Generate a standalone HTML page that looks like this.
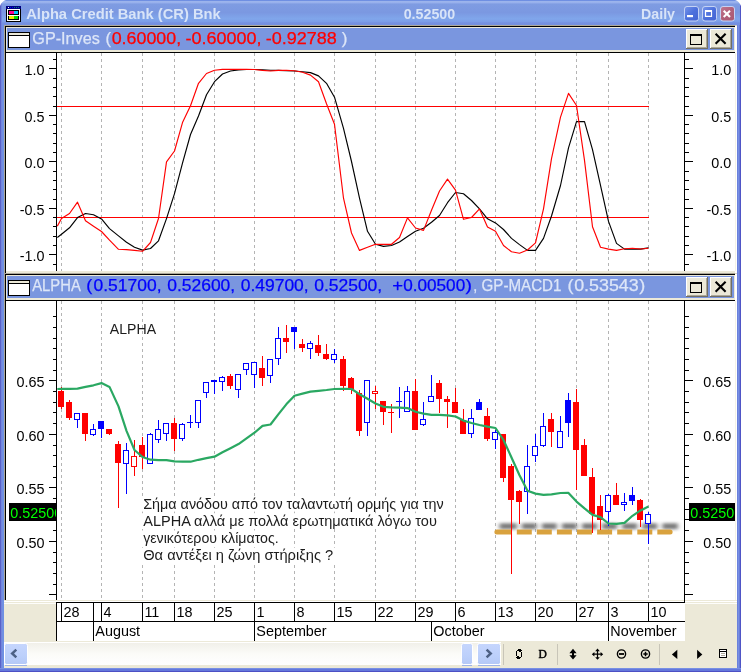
<!DOCTYPE html>
<html><head><meta charset="utf-8"><title>Alpha Credit Bank (CR) Bnk</title>
<style>
html,body{margin:0;padding:0;background:#fff;overflow:hidden}
svg{display:block;will-change:transform;transform:translateZ(0)}
text{font-family:"Liberation Sans", sans-serif;}
.ax{font-size:15.4px;fill:#000}
.ttl{font-size:16.2px}
</style></head><body>
<svg width="741" height="672" viewBox="0 0 741 672">
<defs>
<linearGradient id="tb" x1="0" y1="0" x2="0" y2="1">
<stop offset="0" stop-color="#5f80dc"/><stop offset="0.04" stop-color="#7f9ee8"/>
<stop offset="0.06" stop-color="#9cb4ec"/><stop offset="0.11" stop-color="#98b0ec"/>
<stop offset="0.16" stop-color="#7f9ce2"/><stop offset="0.5" stop-color="#7b98e1"/>
<stop offset="0.75" stop-color="#80a6eb"/><stop offset="0.86" stop-color="#7c9ee8"/>
<stop offset="0.92" stop-color="#7590e0"/><stop offset="1" stop-color="#7590e0"/>
</linearGradient>
<linearGradient id="bb" x1="0" y1="0" x2="1" y2="1">
<stop offset="0" stop-color="#7896ea"/><stop offset="0.5" stop-color="#4c70dc"/><stop offset="1" stop-color="#4464d2"/>
</linearGradient>
<linearGradient id="rb" x1="0" y1="0" x2="1" y2="1">
<stop offset="0" stop-color="#c07890"/><stop offset="0.5" stop-color="#b2607a"/><stop offset="1" stop-color="#a85872"/>
</linearGradient>
<linearGradient id="sb" x1="0" y1="0" x2="0" y2="1">
<stop offset="0" stop-color="#f0efe8"/><stop offset="0.5" stop-color="#fbfbf8"/><stop offset="1" stop-color="#ffffff"/>
</linearGradient>
<linearGradient id="th" x1="0" y1="0" x2="0" y2="1">
<stop offset="0" stop-color="#c6d6fd"/><stop offset="0.6" stop-color="#bcd0fb"/><stop offset="1" stop-color="#b4c8f6"/>
</linearGradient>
<filter id="blur" filterUnits="userSpaceOnUse" x="480" y="505" width="220" height="45"><feGaussianBlur stdDeviation="2.0 1.5"/></filter>
<clipPath id="c1"><rect x="57" y="53" width="628" height="218"/></clipPath>
<clipPath id="c2"><rect x="57" y="301" width="628" height="299"/></clipPath>
</defs>

<g shape-rendering="crispEdges">
<rect x="0" y="0" width="741" height="672" fill="#7088e0"/>
<rect x="0" y="0" width="741" height="25" fill="url(#tb)"/>
<rect x="0" y="3" width="1" height="669" fill="#5862c8"/>
<rect x="1" y="3" width="1" height="669" fill="#7484dc"/>
<rect x="2" y="25" width="2" height="647" fill="#7090e2"/>
<rect x="737" y="25" width="1" height="647" fill="#6a80dc"/>
<rect x="738" y="25" width="1" height="647" fill="#7890e2"/>
<rect x="739" y="25" width="1" height="647" fill="#687cda"/>
<rect x="740" y="3" width="1" height="669" fill="#4f55c6"/>
<rect x="0" y="668" width="741" height="1" fill="#7890e4"/>
<rect x="0" y="669" width="741" height="2" fill="#6478dc"/>
<rect x="0" y="671" width="741" height="1" fill="#4c50c4"/>
</g>
<path d="M0 0H6Q2 1 0 6Z" fill="#fff"/>
<path d="M741 0H735Q739 1 741 6Z" fill="#fff"/>
<g shape-rendering="crispEdges">
<rect x="6" y="6" width="15" height="16" fill="#000"/>
<rect x="6" y="6" width="15" height="3" fill="#000080"/>
<rect x="8" y="7" width="1" height="1" fill="#fff"/>
<rect x="10" y="7" width="1" height="1" fill="#0000ff"/>
<rect x="12" y="7" width="1" height="1" fill="#0000ff"/>
<rect x="14" y="7" width="1" height="1" fill="#008080"/>
<rect x="16" y="7" width="1" height="1" fill="#008080"/>
<rect x="18" y="7" width="1" height="1" fill="#008080"/>
<rect x="7" y="9" width="13" height="12" fill="#fff"/>
<rect x="8" y="10" width="11" height="5" fill="#000"/>
<rect x="8" y="16" width="11" height="4" fill="#000"/>
<rect x="9" y="11" width="5" height="3" fill="#ff0090"/>
<rect x="14" y="11" width="4" height="3" fill="#00c8ff"/>
<rect x="9" y="16" width="5" height="3" fill="#f0f000"/>
<rect x="14" y="16" width="4" height="3" fill="#00e000"/>
</g>
<text x="26.2" y="19.2" font-size="14px" font-weight="bold" fill="#d8e4f8" textLength="194.5" lengthAdjust="spacingAndGlyphs">Alpha Credit Bank (CR) Bnk</text>
<text x="403.7" y="19.2" font-size="14px" font-weight="bold" fill="#d8e4f8" textLength="51.5" lengthAdjust="spacingAndGlyphs">0.52500</text>
<text x="641" y="19.2" font-size="14px" font-weight="bold" fill="#d8e4f8" textLength="34" lengthAdjust="spacingAndGlyphs">Daily</text>
<rect x="684.5" y="6.5" width="14" height="14.5" rx="2.5" fill="url(#bb)" stroke="#c4d2f4" stroke-width="1"/>
<rect x="702.5" y="6.5" width="14" height="14.5" rx="2.5" fill="url(#bb)" stroke="#c4d2f4" stroke-width="1"/>
<rect x="720.5" y="6.5" width="14" height="14.5" rx="2.5" fill="url(#rb)" stroke="#c4d2f4" stroke-width="1"/>
<rect x="687" y="15" width="6" height="2.2" fill="#fff"/>
<path d="M705.5 11.2H711.5V16.3H705.5Z" fill="none" stroke="#fff" stroke-width="1.2"/><rect x="705" y="10" width="7" height="2" fill="#fff"/>
<path d="M723.7 10.7L730 17M730 10.7L723.7 17" stroke="#fff" stroke-width="2.1" fill="none"/>
<g shape-rendering="crispEdges">
<rect x="4" y="25" width="733" height="248" fill="#aca899"/>
<rect x="5" y="26" width="732" height="247" fill="#000"/>
<rect x="6" y="27" width="731" height="246" fill="#ece9d8"/>
<rect x="735" y="26" width="2" height="247" fill="#fff"/>
<rect x="735" y="25" width="2" height="1" fill="#d8d4c4"/>
<rect x="7" y="28" width="727" height="22" fill="#7a96df"/>
<rect x="5" y="52" width="730" height="1" fill="#000"/>
<rect x="6" y="53" width="729" height="218" fill="#fff"/>
<rect x="735" y="53" width="1" height="218" fill="#f4f2e6"/>
<rect x="8" y="32" width="22" height="16" fill="#000"/>
<rect x="9" y="33" width="20" height="2" fill="#ece9d8"/>
<rect x="9" y="36" width="20" height="11" fill="#fff"/>
<rect x="686" y="29" width="22" height="20" fill="#716f64"/>
<rect x="686" y="29" width="21" height="19" fill="#fff"/>
<rect x="687" y="30" width="20" height="18" fill="#aca899"/>
<rect x="687" y="30" width="19" height="17" fill="#ece9d8"/>
<rect x="710" y="29" width="22" height="20" fill="#716f64"/>
<rect x="710" y="29" width="21" height="19" fill="#fff"/>
<rect x="711" y="30" width="20" height="18" fill="#aca899"/>
<rect x="711" y="30" width="19" height="17" fill="#ece9d8"/>
<rect x="690" y="34" width="12" height="11" fill="#000"/>
<rect x="691" y="36" width="10" height="8" fill="#ece9d8"/>
</g>
<path d="M715.6 33.8L725.6 43.8M725.6 33.8L715.6 43.8" stroke="#000" stroke-width="2.1" fill="none"/>
<g shape-rendering="crispEdges">
<rect x="4" y="273" width="733" height="327" fill="#aca899"/>
<rect x="5" y="274" width="732" height="326" fill="#000"/>
<rect x="6" y="275" width="731" height="325" fill="#ece9d8"/>
<rect x="735" y="274" width="2" height="326" fill="#fff"/>
<rect x="735" y="273" width="2" height="1" fill="#d8d4c4"/>
<rect x="7" y="276" width="727" height="22" fill="#7a96df"/>
<rect x="5" y="300" width="730" height="1" fill="#000"/>
<rect x="6" y="301" width="729" height="299" fill="#fff"/>
<rect x="735" y="301" width="1" height="299" fill="#f4f2e6"/>
<rect x="8" y="280" width="22" height="16" fill="#000"/>
<rect x="9" y="281" width="20" height="2" fill="#ece9d8"/>
<rect x="9" y="284" width="20" height="11" fill="#fff"/>
<rect x="686" y="277" width="22" height="20" fill="#716f64"/>
<rect x="686" y="277" width="21" height="19" fill="#fff"/>
<rect x="687" y="278" width="20" height="18" fill="#aca899"/>
<rect x="687" y="278" width="19" height="17" fill="#ece9d8"/>
<rect x="710" y="277" width="22" height="20" fill="#716f64"/>
<rect x="710" y="277" width="21" height="19" fill="#fff"/>
<rect x="711" y="278" width="20" height="18" fill="#aca899"/>
<rect x="711" y="278" width="19" height="17" fill="#ece9d8"/>
<rect x="690" y="282" width="12" height="11" fill="#000"/>
<rect x="691" y="284" width="10" height="8" fill="#ece9d8"/>
</g>
<path d="M715.6 281.8L725.6 291.8M725.6 281.8L715.6 291.8" stroke="#000" stroke-width="2.1" fill="none"/>
<text class="ttl" x="32.3" y="43.5" fill="#dde6f8" stroke="#dde6f8" stroke-width="0.25" textLength="67.5" lengthAdjust="spacingAndGlyphs">GP-Inves</text>
<text class="ttl" x="105.6" y="43.5" fill="#dde6f8" stroke="#dde6f8" stroke-width="0.25" textLength="5.5" lengthAdjust="spacingAndGlyphs">(</text>
<text class="ttl" x="111.7" y="43.5" fill="#ff0000" stroke="#ff0000" stroke-width="0.25" textLength="69.5" lengthAdjust="spacingAndGlyphs">0.60000,</text>
<text class="ttl" x="185.4" y="43.5" fill="#ff0000" stroke="#ff0000" stroke-width="0.25" textLength="76" lengthAdjust="spacingAndGlyphs">-0.60000,</text>
<text class="ttl" x="265.7" y="43.5" fill="#ff0000" stroke="#ff0000" stroke-width="0.25" textLength="71" lengthAdjust="spacingAndGlyphs">-0.92788</text>
<text class="ttl" x="341.8" y="43.5" fill="#dde6f8" stroke="#dde6f8" stroke-width="0.25" textLength="5.7" lengthAdjust="spacingAndGlyphs">)</text>
<text class="ttl" x="32.2" y="291.4" fill="#dde6f8" stroke="#dde6f8" stroke-width="0.25" textLength="48.6" lengthAdjust="spacingAndGlyphs">ALPHA</text>
<text class="ttl" x="86.2" y="291.4" fill="#0000ff" stroke="#0000ff" stroke-width="0.25" textLength="6" lengthAdjust="spacingAndGlyphs">(</text>
<text class="ttl" x="93.5" y="291.4" fill="#0000ff" stroke="#0000ff" stroke-width="0.25" textLength="68" lengthAdjust="spacingAndGlyphs">0.51700,</text>
<text class="ttl" x="167.2" y="291.4" fill="#0000ff" stroke="#0000ff" stroke-width="0.25" textLength="68" lengthAdjust="spacingAndGlyphs">0.52600,</text>
<text class="ttl" x="240.7" y="291.4" fill="#0000ff" stroke="#0000ff" stroke-width="0.25" textLength="68" lengthAdjust="spacingAndGlyphs">0.49700,</text>
<text class="ttl" x="314.2" y="291.4" fill="#0000ff" stroke="#0000ff" stroke-width="0.25" textLength="68" lengthAdjust="spacingAndGlyphs">0.52500,</text>
<text class="ttl" x="392.3" y="291.4" fill="#0000ff" stroke="#0000ff" stroke-width="0.25" textLength="10.8" lengthAdjust="spacingAndGlyphs">+</text>
<text class="ttl" x="403.2" y="291.4" fill="#0000ff" stroke="#0000ff" stroke-width="0.25" textLength="62" lengthAdjust="spacingAndGlyphs">0.00500</text>
<text class="ttl" x="465.5" y="291.4" fill="#0000ff" stroke="#0000ff" stroke-width="0.25" textLength="6.5" lengthAdjust="spacingAndGlyphs">)</text>
<text class="ttl" x="473.3" y="291.4" fill="#dde6f8" stroke="#dde6f8" stroke-width="0.25" textLength="4" lengthAdjust="spacingAndGlyphs">,</text>
<text class="ttl" x="481.5" y="291.4" fill="#dde6f8" stroke="#dde6f8" stroke-width="0.25" textLength="80" lengthAdjust="spacingAndGlyphs">GP-MACD1</text>
<text class="ttl" x="567.5" y="291.4" fill="#dde6f8" stroke="#dde6f8" stroke-width="0.25" textLength="6" lengthAdjust="spacingAndGlyphs">(</text>
<text class="ttl" x="574.2" y="291.4" fill="#dde6f8" stroke="#dde6f8" stroke-width="0.25" textLength="64.5" lengthAdjust="spacingAndGlyphs">0.53543</text>
<text class="ttl" x="639.2" y="291.4" fill="#dde6f8" stroke="#dde6f8" stroke-width="0.25" textLength="6" lengthAdjust="spacingAndGlyphs">)</text>
<g stroke="#b4b4b4" stroke-width="1" stroke-dasharray="3 3" shape-rendering="crispEdges">
<line x1="61.5" y1="53" x2="61.5" y2="271"/>
<line x1="101.5" y1="53" x2="101.5" y2="271"/>
<line x1="142.5" y1="53" x2="142.5" y2="271"/>
<line x1="174.5" y1="53" x2="174.5" y2="271"/>
<line x1="214.5" y1="53" x2="214.5" y2="271"/>
<line x1="254.5" y1="53" x2="254.5" y2="271"/>
<line x1="294.5" y1="53" x2="294.5" y2="271"/>
<line x1="334.5" y1="53" x2="334.5" y2="271"/>
<line x1="375.5" y1="53" x2="375.5" y2="271"/>
<line x1="415.5" y1="53" x2="415.5" y2="271"/>
<line x1="455.5" y1="53" x2="455.5" y2="271"/>
<line x1="495.5" y1="53" x2="495.5" y2="271"/>
<line x1="535.5" y1="53" x2="535.5" y2="271"/>
<line x1="576.5" y1="53" x2="576.5" y2="271"/>
<line x1="608.5" y1="53" x2="608.5" y2="271"/>
<line x1="648.5" y1="53" x2="648.5" y2="271"/>
</g>
<g fill="#000" shape-rendering="crispEdges">
<rect x="56" y="53" width="1" height="218"/>
<rect x="684" y="53" width="1" height="218"/>
<rect x="53" y="264" width="3" height="1"/><rect x="685" y="264" width="4" height="1"/>
<rect x="49" y="254" width="7" height="1"/><rect x="685" y="254" width="8" height="1"/>
<rect x="53" y="245" width="3" height="1"/><rect x="685" y="245" width="4" height="1"/>
<rect x="53" y="236" width="3" height="1"/><rect x="685" y="236" width="4" height="1"/>
<rect x="53" y="226" width="3" height="1"/><rect x="685" y="226" width="4" height="1"/>
<rect x="53" y="217" width="3" height="1"/><rect x="685" y="217" width="4" height="1"/>
<rect x="49" y="208" width="7" height="1"/><rect x="685" y="208" width="8" height="1"/>
<rect x="53" y="199" width="3" height="1"/><rect x="685" y="199" width="4" height="1"/>
<rect x="53" y="189" width="3" height="1"/><rect x="685" y="189" width="4" height="1"/>
<rect x="53" y="180" width="3" height="1"/><rect x="685" y="180" width="4" height="1"/>
<rect x="53" y="171" width="3" height="1"/><rect x="685" y="171" width="4" height="1"/>
<rect x="49" y="161" width="7" height="1"/><rect x="685" y="161" width="8" height="1"/>
<rect x="53" y="152" width="3" height="1"/><rect x="685" y="152" width="4" height="1"/>
<rect x="53" y="143" width="3" height="1"/><rect x="685" y="143" width="4" height="1"/>
<rect x="53" y="133" width="3" height="1"/><rect x="685" y="133" width="4" height="1"/>
<rect x="53" y="124" width="3" height="1"/><rect x="685" y="124" width="4" height="1"/>
<rect x="49" y="115" width="7" height="1"/><rect x="685" y="115" width="8" height="1"/>
<rect x="53" y="106" width="3" height="1"/><rect x="685" y="106" width="4" height="1"/>
<rect x="53" y="96" width="3" height="1"/><rect x="685" y="96" width="4" height="1"/>
<rect x="53" y="87" width="3" height="1"/><rect x="685" y="87" width="4" height="1"/>
<rect x="53" y="78" width="3" height="1"/><rect x="685" y="78" width="4" height="1"/>
<rect x="49" y="68" width="7" height="1"/><rect x="685" y="68" width="8" height="1"/>
<rect x="53" y="59" width="3" height="1"/><rect x="685" y="59" width="4" height="1"/>
</g>
<text class="ax" transform="translate(44.6 261) scale(0.935 1)" text-anchor="end" style="fill:#000">-1.0</text>
<text class="ax" transform="translate(731.2 261) scale(0.935 1)" text-anchor="end" style="fill:#000">-1.0</text>
<text class="ax" transform="translate(44.6 215) scale(0.935 1)" text-anchor="end" style="fill:#000">-0.5</text>
<text class="ax" transform="translate(731.2 215) scale(0.935 1)" text-anchor="end" style="fill:#000">-0.5</text>
<text class="ax" transform="translate(44.6 168) scale(0.935 1)" text-anchor="end" style="fill:#000">0.0</text>
<text class="ax" transform="translate(731.2 168) scale(0.935 1)" text-anchor="end" style="fill:#000">0.0</text>
<text class="ax" transform="translate(44.6 122) scale(0.935 1)" text-anchor="end" style="fill:#000">0.5</text>
<text class="ax" transform="translate(731.2 122) scale(0.935 1)" text-anchor="end" style="fill:#000">0.5</text>
<text class="ax" transform="translate(44.6 75) scale(0.935 1)" text-anchor="end" style="fill:#000">1.0</text>
<text class="ax" transform="translate(731.2 75) scale(0.935 1)" text-anchor="end" style="fill:#000">1.0</text>
<g shape-rendering="crispEdges" fill="#ff0000">
<rect x="57" y="106" width="592" height="1"/><rect x="57" y="217" width="592" height="1"/>
</g>
<polyline points="57.3,237.5 61.5,234.3 69.5,227.8 77.5,217.6 85.5,213.5 93.5,214.8 101.5,218.9 109.5,228.6 118.5,235.9 126.5,242.3 134.5,247.2 142.5,250.1 150.5,248.5 158.5,240.8 166.5,218.6 174.5,193.6 182.5,163.2 190.5,134.5 198.5,116.0 206.5,94.7 214.5,81.7 222.5,74.0 230.5,71.0 238.5,69.9 246.5,69.5 254.5,69.5 262.5,69.8 270.5,70.2 278.5,70.4 286.5,70.7 294.5,71.0 302.5,71.7 310.5,72.6 318.5,75.9 326.5,83.3 334.5,97.2 343.5,128.3 351.5,161.5 359.5,198.2 367.5,231.3 375.5,244.3 383.5,246.4 391.5,245.5 399.5,242.0 407.5,236.6 415.5,231.3 423.5,228.2 431.5,222.3 439.5,215.5 447.5,202.7 455.5,192.5 463.5,193.8 471.5,200.5 479.5,208.9 487.5,218.8 495.5,222.9 503.5,229.5 511.5,238.4 519.5,244.6 527.5,250.4 535.5,250.4 543.5,238.4 551.5,216.0 560.5,185.5 568.5,147.8 576.5,121.6 584.5,121.6 592.5,149.6 600.5,185.4 608.5,221.4 616.5,243.4 624.5,249.1 632.5,249.1 640.5,249.1 648.5,247.9" fill="none" stroke="#000000" stroke-width="1.15" stroke-linejoin="round" clip-path="url(#c1)"/>
<polyline points="57.3,226.2 61.5,218.5 69.5,213.5 77.5,202.2 85.5,220.8 93.5,226.2 101.5,231.5 109.5,240.2 118.5,249.3 126.5,249.6 134.5,250.4 142.5,251.3 150.5,242.5 158.5,218.5 166.5,161.8 174.5,151.0 182.5,122.6 190.5,105.7 198.5,83.3 206.5,73.5 214.5,70.2 222.5,69.4 230.5,69.4 238.5,69.4 246.5,69.4 254.5,69.5 262.5,70.4 270.5,71.0 278.5,70.4 286.5,70.4 294.5,70.7 302.5,72.3 310.5,75.1 318.5,81.7 326.5,103.8 334.5,124.2 343.5,198.2 351.5,233.0 359.5,250.4 367.5,247.3 375.5,244.3 383.5,244.3 391.5,244.3 399.5,237.5 407.5,217.9 415.5,228.0 423.5,230.4 431.5,210.2 439.5,191.0 447.5,179.1 455.5,190.2 463.5,219.3 471.5,217.5 479.5,208.9 487.5,227.1 495.5,231.3 503.5,245.5 511.5,251.8 519.5,253.2 527.5,250.0 535.5,242.9 543.5,208.8 551.5,158.6 560.5,117.1 568.5,93.4 576.5,105.5 584.5,160.4 592.5,226.8 600.5,247.3 608.5,249.1 616.5,250.4 624.5,248.8 632.5,248.2 640.5,249.0 648.5,248.2" fill="none" stroke="#ff0000" stroke-width="1.15" stroke-linejoin="round" clip-path="url(#c1)"/>
<g stroke="#b4b4b4" stroke-width="1" stroke-dasharray="3 3" shape-rendering="crispEdges">
<line x1="61.5" y1="301" x2="61.5" y2="600"/>
<line x1="101.5" y1="301" x2="101.5" y2="600"/>
<line x1="142.5" y1="301" x2="142.5" y2="600"/>
<line x1="174.5" y1="301" x2="174.5" y2="600"/>
<line x1="214.5" y1="301" x2="214.5" y2="600"/>
<line x1="254.5" y1="301" x2="254.5" y2="600"/>
<line x1="294.5" y1="301" x2="294.5" y2="600"/>
<line x1="334.5" y1="301" x2="334.5" y2="600"/>
<line x1="375.5" y1="301" x2="375.5" y2="600"/>
<line x1="415.5" y1="301" x2="415.5" y2="600"/>
<line x1="455.5" y1="301" x2="455.5" y2="600"/>
<line x1="495.5" y1="301" x2="495.5" y2="600"/>
<line x1="535.5" y1="301" x2="535.5" y2="600"/>
<line x1="576.5" y1="301" x2="576.5" y2="600"/>
<line x1="608.5" y1="301" x2="608.5" y2="600"/>
<line x1="648.5" y1="301" x2="648.5" y2="600"/>
</g>
<g fill="#000" shape-rendering="crispEdges">
<rect x="56" y="301" width="1" height="299"/>
<rect x="684" y="301" width="1" height="299"/>
<rect x="49" y="594" width="7" height="1"/><rect x="685" y="594" width="8" height="1"/>
<rect x="53" y="584" width="3" height="1"/><rect x="685" y="584" width="4" height="1"/>
<rect x="53" y="573" width="3" height="1"/><rect x="685" y="573" width="4" height="1"/>
<rect x="53" y="562" width="3" height="1"/><rect x="685" y="562" width="4" height="1"/>
<rect x="53" y="552" width="3" height="1"/><rect x="685" y="552" width="4" height="1"/>
<rect x="49" y="541" width="7" height="1"/><rect x="685" y="541" width="8" height="1"/>
<rect x="53" y="530" width="3" height="1"/><rect x="685" y="530" width="4" height="1"/>
<rect x="53" y="519" width="3" height="1"/><rect x="685" y="519" width="4" height="1"/>
<rect x="53" y="509" width="3" height="1"/><rect x="685" y="509" width="4" height="1"/>
<rect x="53" y="498" width="3" height="1"/><rect x="685" y="498" width="4" height="1"/>
<rect x="49" y="487" width="7" height="1"/><rect x="685" y="487" width="8" height="1"/>
<rect x="53" y="477" width="3" height="1"/><rect x="685" y="477" width="4" height="1"/>
<rect x="53" y="466" width="3" height="1"/><rect x="685" y="466" width="4" height="1"/>
<rect x="53" y="455" width="3" height="1"/><rect x="685" y="455" width="4" height="1"/>
<rect x="53" y="445" width="3" height="1"/><rect x="685" y="445" width="4" height="1"/>
<rect x="49" y="434" width="7" height="1"/><rect x="685" y="434" width="8" height="1"/>
<rect x="53" y="423" width="3" height="1"/><rect x="685" y="423" width="4" height="1"/>
<rect x="53" y="412" width="3" height="1"/><rect x="685" y="412" width="4" height="1"/>
<rect x="53" y="402" width="3" height="1"/><rect x="685" y="402" width="4" height="1"/>
<rect x="53" y="391" width="3" height="1"/><rect x="685" y="391" width="4" height="1"/>
<rect x="49" y="380" width="7" height="1"/><rect x="685" y="380" width="8" height="1"/>
<rect x="53" y="370" width="3" height="1"/><rect x="685" y="370" width="4" height="1"/>
<rect x="53" y="359" width="3" height="1"/><rect x="685" y="359" width="4" height="1"/>
<rect x="53" y="348" width="3" height="1"/><rect x="685" y="348" width="4" height="1"/>
<rect x="53" y="338" width="3" height="1"/><rect x="685" y="338" width="4" height="1"/>
<rect x="53" y="327" width="3" height="1"/><rect x="685" y="327" width="4" height="1"/>
<rect x="53" y="316" width="3" height="1"/><rect x="685" y="316" width="4" height="1"/>
</g>
<text class="ax" transform="translate(44.6 548) scale(0.935 1)" text-anchor="end" style="fill:#000">0.50</text>
<text class="ax" transform="translate(731.2 548) scale(0.935 1)" text-anchor="end" style="fill:#000">0.50</text>
<text class="ax" transform="translate(44.6 494) scale(0.935 1)" text-anchor="end" style="fill:#000">0.55</text>
<text class="ax" transform="translate(731.2 494) scale(0.935 1)" text-anchor="end" style="fill:#000">0.55</text>
<text class="ax" transform="translate(44.6 441) scale(0.935 1)" text-anchor="end" style="fill:#000">0.60</text>
<text class="ax" transform="translate(731.2 441) scale(0.935 1)" text-anchor="end" style="fill:#000">0.60</text>
<text class="ax" transform="translate(44.6 387) scale(0.935 1)" text-anchor="end" style="fill:#000">0.65</text>
<text class="ax" transform="translate(731.2 387) scale(0.935 1)" text-anchor="end" style="fill:#000">0.65</text>
<g filter="url(#blur)" opacity="0.95"><line x1="499.5" y1="526.3" x2="678" y2="526.3" stroke="#757575" stroke-width="6" stroke-dasharray="17.5 4.75 15 5.09 15 5.09 15 5.09 15 5.09 15 5.09 15 5.09 15 5.09 15.5 100" stroke-linecap="butt"/></g>
<g fill="#d9a23e">
<path d="M496.9 529.5H511.9V534.5H496.9A2.5 2.5 0 0 1 496.9 529.5Z"/>
<rect x="516.8" y="529.5" width="15.0" height="5"/>
<rect x="536.8" y="529.5" width="15.0" height="5"/>
<rect x="556.9" y="529.5" width="15.0" height="5"/>
<rect x="577.0" y="529.5" width="15.0" height="5"/>
<rect x="597.1" y="529.5" width="15.0" height="5"/>
<rect x="617.2" y="529.5" width="15.0" height="5"/>
<rect x="637.3" y="529.5" width="15.0" height="5"/>
<path d="M657.3 529.5H670.1A2.5 2.5 0 0 1 670.1 534.5H657.3Z"/>
</g>
<g shape-rendering="crispEdges">
<rect x="61" y="387" width="1" height="22" fill="#ff0000"/>
<rect x="58" y="391" width="6" height="16" fill="#ff0000"/>
<rect x="69" y="400" width="1" height="20" fill="#ff0000"/>
<rect x="66" y="402" width="6" height="16" fill="#ff0000"/>
<rect x="77" y="413" width="1" height="15" fill="#0000ff"/>
<rect x="74" y="413" width="6" height="7" fill="#0000ff"/>
<rect x="75" y="414" width="4" height="5" fill="#fff"/>
<rect x="85" y="413" width="1" height="28" fill="#ff0000"/>
<rect x="82" y="413" width="6" height="21" fill="#ff0000"/>
<rect x="93" y="424" width="1" height="12" fill="#0000ff"/>
<rect x="90" y="429" width="6" height="6" fill="#0000ff"/>
<rect x="91" y="430" width="4" height="4" fill="#fff"/>
<rect x="101" y="421" width="1" height="17" fill="#0000ff"/>
<rect x="98" y="421" width="6" height="8" fill="#0000ff"/>
<rect x="109" y="429" width="1" height="6" fill="#ff0000"/>
<rect x="106" y="429" width="6" height="5" fill="#ff0000"/>
<rect x="118" y="441" width="1" height="67" fill="#ff0000"/>
<rect x="115" y="444" width="6" height="19" fill="#ff0000"/>
<rect x="126" y="443" width="1" height="51" fill="#0000ff"/>
<rect x="123" y="450" width="6" height="14" fill="#0000ff"/>
<rect x="124" y="451" width="4" height="12" fill="#fff"/>
<rect x="134" y="440" width="1" height="36" fill="#ff0000"/>
<rect x="131" y="456" width="6" height="11" fill="#ff0000"/>
<rect x="132" y="457" width="4" height="9" fill="#fff"/>
<rect x="142" y="437" width="1" height="32" fill="#ff0000"/>
<rect x="139" y="445" width="6" height="12" fill="#ff0000"/>
<rect x="150" y="433" width="1" height="31" fill="#0000ff"/>
<rect x="147" y="434" width="6" height="30" fill="#0000ff"/>
<rect x="148" y="435" width="4" height="28" fill="#fff"/>
<rect x="158" y="420" width="1" height="23" fill="#0000ff"/>
<rect x="155" y="429" width="6" height="11" fill="#0000ff"/>
<rect x="156" y="430" width="4" height="9" fill="#fff"/>
<rect x="166" y="423" width="1" height="18" fill="#0000ff"/>
<rect x="163" y="423" width="6" height="11" fill="#0000ff"/>
<rect x="164" y="424" width="4" height="9" fill="#fff"/>
<rect x="174" y="418" width="1" height="33" fill="#ff0000"/>
<rect x="171" y="423" width="6" height="16" fill="#ff0000"/>
<rect x="182" y="423" width="1" height="18" fill="#0000ff"/>
<rect x="179" y="424" width="6" height="15" fill="#0000ff"/>
<rect x="180" y="425" width="4" height="13" fill="#fff"/>
<rect x="190" y="415" width="1" height="13" fill="#0000ff"/>
<rect x="187" y="422" width="6" height="1" fill="#0000ff"/>
<rect x="198" y="400" width="1" height="28" fill="#0000ff"/>
<rect x="195" y="400" width="6" height="23" fill="#0000ff"/>
<rect x="196" y="401" width="4" height="21" fill="#fff"/>
<rect x="206" y="382" width="1" height="16" fill="#0000ff"/>
<rect x="203" y="382" width="6" height="11" fill="#0000ff"/>
<rect x="204" y="383" width="4" height="9" fill="#fff"/>
<rect x="214" y="380" width="1" height="14" fill="#0000ff"/>
<rect x="211" y="380" width="6" height="2" fill="#0000ff"/>
<rect x="222" y="376" width="1" height="15" fill="#0000ff"/>
<rect x="219" y="377" width="6" height="5" fill="#0000ff"/>
<rect x="220" y="378" width="4" height="3" fill="#fff"/>
<rect x="230" y="374" width="1" height="15" fill="#ff0000"/>
<rect x="227" y="376" width="6" height="10" fill="#ff0000"/>
<rect x="238" y="374" width="1" height="24" fill="#0000ff"/>
<rect x="235" y="374" width="6" height="16" fill="#0000ff"/>
<rect x="236" y="375" width="4" height="14" fill="#fff"/>
<rect x="246" y="363" width="1" height="12" fill="#0000ff"/>
<rect x="243" y="363" width="6" height="7" fill="#0000ff"/>
<rect x="244" y="364" width="4" height="5" fill="#fff"/>
<rect x="254" y="362" width="1" height="26" fill="#0000ff"/>
<rect x="251" y="362" width="6" height="13" fill="#0000ff"/>
<rect x="252" y="363" width="4" height="11" fill="#fff"/>
<rect x="262" y="356" width="1" height="30" fill="#ff0000"/>
<rect x="259" y="368" width="6" height="10" fill="#ff0000"/>
<rect x="270" y="359" width="1" height="24" fill="#0000ff"/>
<rect x="267" y="359" width="6" height="17" fill="#0000ff"/>
<rect x="268" y="360" width="4" height="15" fill="#fff"/>
<rect x="278" y="327" width="1" height="38" fill="#0000ff"/>
<rect x="275" y="338" width="6" height="21" fill="#0000ff"/>
<rect x="276" y="339" width="4" height="19" fill="#fff"/>
<rect x="286" y="325" width="1" height="28" fill="#ff0000"/>
<rect x="283" y="338" width="6" height="4" fill="#ff0000"/>
<rect x="294" y="327" width="1" height="22" fill="#0000ff"/>
<rect x="291" y="327" width="6" height="5" fill="#0000ff"/>
<rect x="302" y="339" width="1" height="13" fill="#ff0000"/>
<rect x="299" y="344" width="6" height="4" fill="#ff0000"/>
<rect x="310" y="341" width="1" height="18" fill="#0000ff"/>
<rect x="307" y="343" width="6" height="6" fill="#0000ff"/>
<rect x="308" y="344" width="4" height="4" fill="#fff"/>
<rect x="318" y="335" width="1" height="21" fill="#ff0000"/>
<rect x="315" y="345" width="6" height="8" fill="#ff0000"/>
<rect x="326" y="344" width="1" height="16" fill="#ff0000"/>
<rect x="323" y="354" width="6" height="5" fill="#ff0000"/>
<rect x="334" y="349" width="1" height="14" fill="#0000ff"/>
<rect x="331" y="354" width="6" height="6" fill="#0000ff"/>
<rect x="332" y="355" width="4" height="4" fill="#fff"/>
<rect x="343" y="356" width="1" height="35" fill="#ff0000"/>
<rect x="340" y="359" width="6" height="27" fill="#ff0000"/>
<rect x="351" y="377" width="1" height="17" fill="#ff0000"/>
<rect x="348" y="378" width="6" height="11" fill="#ff0000"/>
<rect x="359" y="390" width="1" height="46" fill="#ff0000"/>
<rect x="356" y="393" width="6" height="38" fill="#ff0000"/>
<rect x="367" y="380" width="1" height="56" fill="#0000ff"/>
<rect x="364" y="380" width="6" height="43" fill="#0000ff"/>
<rect x="365" y="381" width="4" height="41" fill="#fff"/>
<rect x="375" y="386" width="1" height="23" fill="#ff0000"/>
<rect x="372" y="391" width="6" height="3" fill="#ff0000"/>
<rect x="373" y="392" width="4" height="1" fill="#fff"/>
<rect x="383" y="401" width="1" height="24" fill="#ff0000"/>
<rect x="380" y="401" width="6" height="11" fill="#ff0000"/>
<rect x="391" y="404" width="1" height="29" fill="#ff0000"/>
<rect x="388" y="412" width="6" height="1" fill="#ff0000"/>
<rect x="399" y="387" width="1" height="31" fill="#0000ff"/>
<rect x="396" y="401" width="6" height="1" fill="#0000ff"/>
<rect x="407" y="386" width="1" height="26" fill="#0000ff"/>
<rect x="404" y="391" width="6" height="21" fill="#0000ff"/>
<rect x="405" y="392" width="4" height="19" fill="#fff"/>
<rect x="415" y="379" width="1" height="51" fill="#ff0000"/>
<rect x="412" y="391" width="6" height="39" fill="#ff0000"/>
<rect x="423" y="402" width="1" height="24" fill="#0000ff"/>
<rect x="420" y="419" width="6" height="6" fill="#0000ff"/>
<rect x="421" y="420" width="4" height="4" fill="#fff"/>
<rect x="431" y="375" width="1" height="27" fill="#0000ff"/>
<rect x="428" y="396" width="6" height="6" fill="#0000ff"/>
<rect x="429" y="397" width="4" height="4" fill="#fff"/>
<rect x="439" y="380" width="1" height="33" fill="#ff0000"/>
<rect x="436" y="383" width="6" height="16" fill="#ff0000"/>
<rect x="447" y="396" width="1" height="32" fill="#ff0000"/>
<rect x="444" y="399" width="6" height="3" fill="#ff0000"/>
<rect x="455" y="388" width="1" height="25" fill="#ff0000"/>
<rect x="452" y="402" width="6" height="11" fill="#ff0000"/>
<rect x="463" y="409" width="1" height="25" fill="#ff0000"/>
<rect x="460" y="420" width="6" height="14" fill="#ff0000"/>
<rect x="471" y="409" width="1" height="29" fill="#0000ff"/>
<rect x="468" y="418" width="6" height="16" fill="#0000ff"/>
<rect x="469" y="419" width="4" height="14" fill="#fff"/>
<rect x="479" y="399" width="1" height="11" fill="#0000ff"/>
<rect x="476" y="402" width="6" height="8" fill="#0000ff"/>
<rect x="487" y="408" width="1" height="33" fill="#ff0000"/>
<rect x="484" y="416" width="6" height="23" fill="#ff0000"/>
<rect x="495" y="430" width="1" height="19" fill="#0000ff"/>
<rect x="492" y="432" width="6" height="8" fill="#0000ff"/>
<rect x="493" y="433" width="4" height="6" fill="#fff"/>
<rect x="503" y="434" width="1" height="48" fill="#ff0000"/>
<rect x="500" y="434" width="6" height="44" fill="#ff0000"/>
<rect x="511" y="464" width="1" height="110" fill="#ff0000"/>
<rect x="508" y="466" width="6" height="34" fill="#ff0000"/>
<rect x="519" y="490" width="1" height="34" fill="#ff0000"/>
<rect x="516" y="491" width="6" height="11" fill="#ff0000"/>
<rect x="527" y="445" width="1" height="69" fill="#0000ff"/>
<rect x="524" y="466" width="6" height="26" fill="#0000ff"/>
<rect x="525" y="467" width="4" height="24" fill="#fff"/>
<rect x="535" y="434" width="1" height="28" fill="#0000ff"/>
<rect x="532" y="446" width="6" height="10" fill="#0000ff"/>
<rect x="533" y="447" width="4" height="8" fill="#fff"/>
<rect x="543" y="413" width="1" height="34" fill="#0000ff"/>
<rect x="540" y="426" width="6" height="20" fill="#0000ff"/>
<rect x="541" y="427" width="4" height="18" fill="#fff"/>
<rect x="551" y="413" width="1" height="34" fill="#ff0000"/>
<rect x="548" y="419" width="6" height="13" fill="#ff0000"/>
<rect x="560" y="416" width="1" height="32" fill="#0000ff"/>
<rect x="557" y="431" width="6" height="17" fill="#0000ff"/>
<rect x="558" y="432" width="4" height="15" fill="#fff"/>
<rect x="568" y="393" width="1" height="44" fill="#0000ff"/>
<rect x="565" y="400" width="6" height="23" fill="#0000ff"/>
<rect x="576" y="389" width="1" height="101" fill="#ff0000"/>
<rect x="573" y="402" width="6" height="48" fill="#ff0000"/>
<rect x="584" y="439" width="1" height="37" fill="#ff0000"/>
<rect x="581" y="445" width="6" height="31" fill="#ff0000"/>
<rect x="592" y="468" width="1" height="65" fill="#ff0000"/>
<rect x="589" y="477" width="6" height="37" fill="#ff0000"/>
<rect x="600" y="495" width="1" height="35" fill="#ff0000"/>
<rect x="597" y="506" width="6" height="14" fill="#ff0000"/>
<rect x="608" y="494" width="1" height="32" fill="#0000ff"/>
<rect x="605" y="495" width="6" height="17" fill="#0000ff"/>
<rect x="606" y="496" width="4" height="15" fill="#fff"/>
<rect x="616" y="483" width="1" height="22" fill="#ff0000"/>
<rect x="613" y="495" width="6" height="10" fill="#ff0000"/>
<rect x="624" y="493" width="1" height="18" fill="#0000ff"/>
<rect x="621" y="502" width="6" height="3" fill="#0000ff"/>
<rect x="622" y="503" width="4" height="1" fill="#fff"/>
<rect x="632" y="487" width="1" height="18" fill="#0000ff"/>
<rect x="629" y="495" width="6" height="6" fill="#0000ff"/>
<rect x="640" y="499" width="1" height="28" fill="#ff0000"/>
<rect x="637" y="500" width="6" height="20" fill="#ff0000"/>
<rect x="648" y="512" width="1" height="32" fill="#0000ff"/>
<rect x="645" y="514" width="6" height="10" fill="#0000ff"/>
<rect x="646" y="515" width="4" height="8" fill="#fff"/>
</g>
<polyline points="57.3,389.0 61.5,388.8 69.5,388.8 77.5,388.6 85.5,386.9 93.5,385.3 101.5,383.1 109.5,386.9 118.5,406.4 126.5,430.8 134.5,450.0 142.5,457.0 150.5,459.7 158.5,460.1 166.5,460.1 174.5,461.4 182.5,461.7 190.5,461.7 198.5,459.8 206.5,458.2 214.5,456.7 222.5,452.3 230.5,448.2 238.5,444.1 246.5,438.4 254.5,432.7 262.5,425.8 270.5,424.5 278.5,414.2 286.5,404.1 294.5,395.7 302.5,393.6 310.5,391.6 318.5,390.8 326.5,390.0 334.5,389.0 343.5,388.8 351.5,389.0 359.5,394.2 367.5,398.8 375.5,403.5 383.5,406.8 391.5,407.3 399.5,407.6 407.5,408.1 415.5,411.8 423.5,413.6 431.5,414.8 439.5,414.8 447.5,415.3 455.5,416.5 463.5,420.6 471.5,423.0 479.5,425.0 487.5,426.6 495.5,428.0 503.5,440.0 511.5,457.5 519.5,475.2 527.5,490.7 535.5,493.6 543.5,494.8 551.5,494.3 560.5,493.0 568.5,492.9 576.5,501.6 584.5,508.4 592.5,514.9 600.5,517.1 608.5,523.5 616.5,523.9 624.5,522.9 632.5,515.8 640.5,510.4 648.5,506.6" fill="none" stroke="#2aa862" stroke-width="2.2" stroke-linejoin="round" clip-path="url(#c2)"/>
<g shape-rendering="crispEdges"><rect x="9" y="503" width="48" height="18" fill="#000"/><rect x="689" y="503" width="46" height="18" fill="#000"/></g>
<clipPath id="c3"><rect x="9" y="503" width="47" height="18"/></clipPath>
<g clip-path="url(#c3)">
<text class="ax" transform="translate(10.3 517.6) scale(0.935 1)" text-anchor="start" style="fill:#00ff00">0.52500</text>
</g>
<text class="ax" transform="translate(690.3 517.6) scale(0.935 1)" text-anchor="start" style="fill:#00ff00">0.5250</text>
<text x="109.8" y="333.8" font-size="14.9px" fill="#1c1c1c" textLength="46.3" lengthAdjust="spacingAndGlyphs">ALPHA</text>
<rect x="142" y="496.0" width="303.5" height="15.6" fill="#fff"/>
<rect x="142" y="513.2" width="296.7" height="15.6" fill="#fff"/>
<rect x="142" y="530.5" width="138.5" height="15.6" fill="#fff"/>
<rect x="142" y="547.7" width="193.0" height="15.6" fill="#fff"/>
<text x="143.2" y="508.5" font-size="14.5px" fill="#1c1c1c" textLength="300.5" lengthAdjust="spacingAndGlyphs">Σήμα ανόδου από τον ταλαντωτή ορμής για την</text>
<text x="143.2" y="525.7" font-size="14.5px" fill="#1c1c1c" textLength="293.7" lengthAdjust="spacingAndGlyphs">ALPHA αλλά με πολλά ερωτηματικά λόγω του</text>
<text x="143.2" y="543.0" font-size="14.5px" fill="#1c1c1c" textLength="135.5" lengthAdjust="spacingAndGlyphs">γενικότερου κλίματος.</text>
<text x="143.2" y="560.2" font-size="14.5px" fill="#1c1c1c" textLength="190" lengthAdjust="spacingAndGlyphs">Θα αντέξει η ζώνη στήριξης ?</text>
<g shape-rendering="crispEdges">
<rect x="4" y="600" width="733" height="68" fill="#ece9d8"/>
<rect x="4" y="601" width="733" height="1" fill="#fff"/><rect x="4" y="603" width="733" height="1" fill="#fdfdfb"/>
<rect x="57" y="602" width="628" height="39" fill="#fff"/>
<rect x="56" y="602" width="629" height="1" fill="#000"/>
<rect x="56" y="621" width="629" height="1" fill="#000"/>
<rect x="56" y="602" width="1" height="39" fill="#000"/>
<rect x="684" y="600" width="1" height="3" fill="#000"/>
<rect x="61" y="603" width="1" height="18" fill="#000"/>
<rect x="101" y="603" width="1" height="18" fill="#000"/>
<rect x="142" y="603" width="1" height="18" fill="#000"/>
<rect x="174" y="603" width="1" height="18" fill="#000"/>
<rect x="214" y="603" width="1" height="18" fill="#000"/>
<rect x="254" y="603" width="1" height="18" fill="#000"/>
<rect x="294" y="603" width="1" height="18" fill="#000"/>
<rect x="334" y="603" width="1" height="18" fill="#000"/>
<rect x="375" y="603" width="1" height="18" fill="#000"/>
<rect x="415" y="603" width="1" height="18" fill="#000"/>
<rect x="455" y="603" width="1" height="18" fill="#000"/>
<rect x="495" y="603" width="1" height="18" fill="#000"/>
<rect x="535" y="603" width="1" height="18" fill="#000"/>
<rect x="576" y="603" width="1" height="18" fill="#000"/>
<rect x="608" y="603" width="1" height="18" fill="#000"/>
<rect x="648" y="603" width="1" height="18" fill="#000"/>
<rect x="93" y="621" width="1" height="20" fill="#000"/>
<rect x="254" y="621" width="1" height="20" fill="#000"/>
<rect x="431" y="621" width="1" height="20" fill="#000"/>
<rect x="608" y="621" width="1" height="20" fill="#000"/>
<rect x="93" y="603" width="1" height="18" fill="#000"/>
</g>
<text class="ax" transform="translate(63.4 617) scale(0.935 1)" text-anchor="start" style="fill:#000">28</text>
<text class="ax" transform="translate(103.4 617) scale(0.935 1)" text-anchor="start" style="fill:#000">4</text>
<text class="ax" transform="translate(144.4 617) scale(0.935 1)" text-anchor="start" style="fill:#000">11</text>
<text class="ax" transform="translate(176.4 617) scale(0.935 1)" text-anchor="start" style="fill:#000">18</text>
<text class="ax" transform="translate(216.4 617) scale(0.935 1)" text-anchor="start" style="fill:#000">25</text>
<text class="ax" transform="translate(256.4 617) scale(0.935 1)" text-anchor="start" style="fill:#000">1</text>
<text class="ax" transform="translate(296.4 617) scale(0.935 1)" text-anchor="start" style="fill:#000">8</text>
<text class="ax" transform="translate(336.4 617) scale(0.935 1)" text-anchor="start" style="fill:#000">15</text>
<text class="ax" transform="translate(377.4 617) scale(0.935 1)" text-anchor="start" style="fill:#000">22</text>
<text class="ax" transform="translate(417.4 617) scale(0.935 1)" text-anchor="start" style="fill:#000">29</text>
<text class="ax" transform="translate(457.4 617) scale(0.935 1)" text-anchor="start" style="fill:#000">6</text>
<text class="ax" transform="translate(497.4 617) scale(0.935 1)" text-anchor="start" style="fill:#000">13</text>
<text class="ax" transform="translate(537.4 617) scale(0.935 1)" text-anchor="start" style="fill:#000">20</text>
<text class="ax" transform="translate(578.4 617) scale(0.935 1)" text-anchor="start" style="fill:#000">27</text>
<text class="ax" transform="translate(610.4 617) scale(0.935 1)" text-anchor="start" style="fill:#000">3</text>
<text class="ax" transform="translate(650.4 617) scale(0.935 1)" text-anchor="start" style="fill:#000">10</text>
<text class="ax" transform="translate(95.3 636) scale(0.935 1)" text-anchor="start" style="fill:#000">August</text>
<text class="ax" transform="translate(256.3 636) scale(0.935 1)" text-anchor="start" style="fill:#000">September</text>
<text class="ax" transform="translate(433.3 636) scale(0.935 1)" text-anchor="start" style="fill:#000">October</text>
<text class="ax" transform="translate(610.3 636) scale(0.935 1)" text-anchor="start" style="fill:#000">November</text>
<g shape-rendering="crispEdges">
<rect x="4" y="642" width="497" height="23" fill="url(#sb)"/>
<rect x="4" y="642" width="497" height="1" fill="#fff"/>
<rect x="4" y="642" width="1" height="23" fill="#fff"/>
</g>
<rect x="5" y="665" width="22" height="1" fill="#9db3e8"/>
<rect x="4.5" y="643.5" width="23" height="21" rx="2" fill="url(#th)" stroke="#fff" stroke-width="1"/>
<rect x="462" y="665" width="10" height="1" fill="#9db3e8"/>
<rect x="461.5" y="643.5" width="11" height="21" rx="2" fill="url(#th)" stroke="#fff" stroke-width="1"/>
<rect x="478" y="665" width="22" height="1" fill="#9db3e8"/>
<rect x="477.5" y="643.5" width="23" height="21" rx="2" fill="url(#th)" stroke="#fff" stroke-width="1"/>
<path d="M16.3 649.7L12.2 653.5L16.3 657.3" stroke="#4d6185" stroke-width="2.5" fill="none"/>
<path d="M486.6 649.7L490.7 653.5L486.6 657.3" stroke="#4d6185" stroke-width="2.5" fill="none"/>
<g shape-rendering="crispEdges" fill="#c8c5b8"><rect x="503" y="644" width="1" height="21"/><rect x="557" y="644" width="1" height="21"/><rect x="659" y="644" width="1" height="21"/></g>
<g shape-rendering="crispEdges" fill="#000">
<rect x="518" y="649" width="1" height="1"/>
<rect x="519" y="649" width="1" height="1"/>
<rect x="520" y="649" width="1" height="1"/>
<rect x="517" y="650" width="1" height="1"/>
<rect x="518" y="650" width="1" height="1"/>
<rect x="519" y="650" width="1" height="1"/>
<rect x="520" y="650" width="1" height="1"/>
<rect x="521" y="650" width="1" height="1"/>
<rect x="516" y="651" width="1" height="1"/>
<rect x="519" y="651" width="1" height="1"/>
<rect x="520" y="651" width="1" height="1"/>
<rect x="516" y="652" width="1" height="1"/>
<rect x="521" y="652" width="1" height="1"/>
<rect x="516" y="653" width="1" height="1"/>
<rect x="521" y="653" width="1" height="1"/>
<rect x="516" y="654" width="1" height="1"/>
<rect x="521" y="654" width="1" height="1"/>
<rect x="516" y="655" width="1" height="1"/>
<rect x="521" y="655" width="1" height="1"/>
<rect x="517" y="656" width="1" height="1"/>
<rect x="518" y="656" width="1" height="1"/>
<rect x="521" y="656" width="1" height="1"/>
<rect x="516" y="657" width="1" height="1"/>
<rect x="517" y="657" width="1" height="1"/>
<rect x="518" y="657" width="1" height="1"/>
<rect x="519" y="657" width="1" height="1"/>
<rect x="520" y="657" width="1" height="1"/>
<rect x="517" y="658" width="1" height="1"/>
<rect x="518" y="658" width="1" height="1"/>
<rect x="519" y="658" width="1" height="1"/>
</g>
<text x="538.6" y="658" font-size="11.5px" stroke="#000" stroke-width="0.45" style="font-family:'Liberation Serif',serif" fill="#000">D</text>
<path d="M573 648.8L576.6 653.2H574V655.2H576.6L573 659.4L569.4 655.2H572V653.2H569.4Z" fill="#000"/>
<g stroke="#000" stroke-width="1.2" fill="none"><path d="M597.5 650V658.5M593 654.2H602"/></g>
<path d="M597.5 648.6L599.8 651.2H595.2Z M597.5 659.8L599.8 657.2H595.2Z M591.8 654.2L594.4 651.9V656.5Z M603.2 654.2L600.6 651.9V656.5Z" fill="#000"/>
<g stroke="#000" stroke-width="1.4" fill="none"><circle cx="621.5" cy="654" r="4.1"/><path d="M619 654H624" stroke-width="1.8"/><circle cx="645.5" cy="654" r="4.1"/><path d="M643.3 654H647.7M645.5 651.8V656.2" stroke-width="1.5"/></g>
<path d="M677.3 649.7V659.1L671.9 654.4Z" fill="#000"/><path d="M697.1 649.7V659.1L702.3 654.4Z" fill="#000"/>
<g shape-rendering="crispEdges"><rect x="719" y="649" width="8" height="9" fill="#000"/><rect x="720" y="650" width="6" height="1" fill="#fff"/><rect x="720" y="652" width="6" height="5" fill="#fff"/><rect x="721" y="653" width="4" height="1" fill="#aca899"/><rect x="721" y="655" width="4" height="1" fill="#aca899"/></g>
</svg></body></html>
